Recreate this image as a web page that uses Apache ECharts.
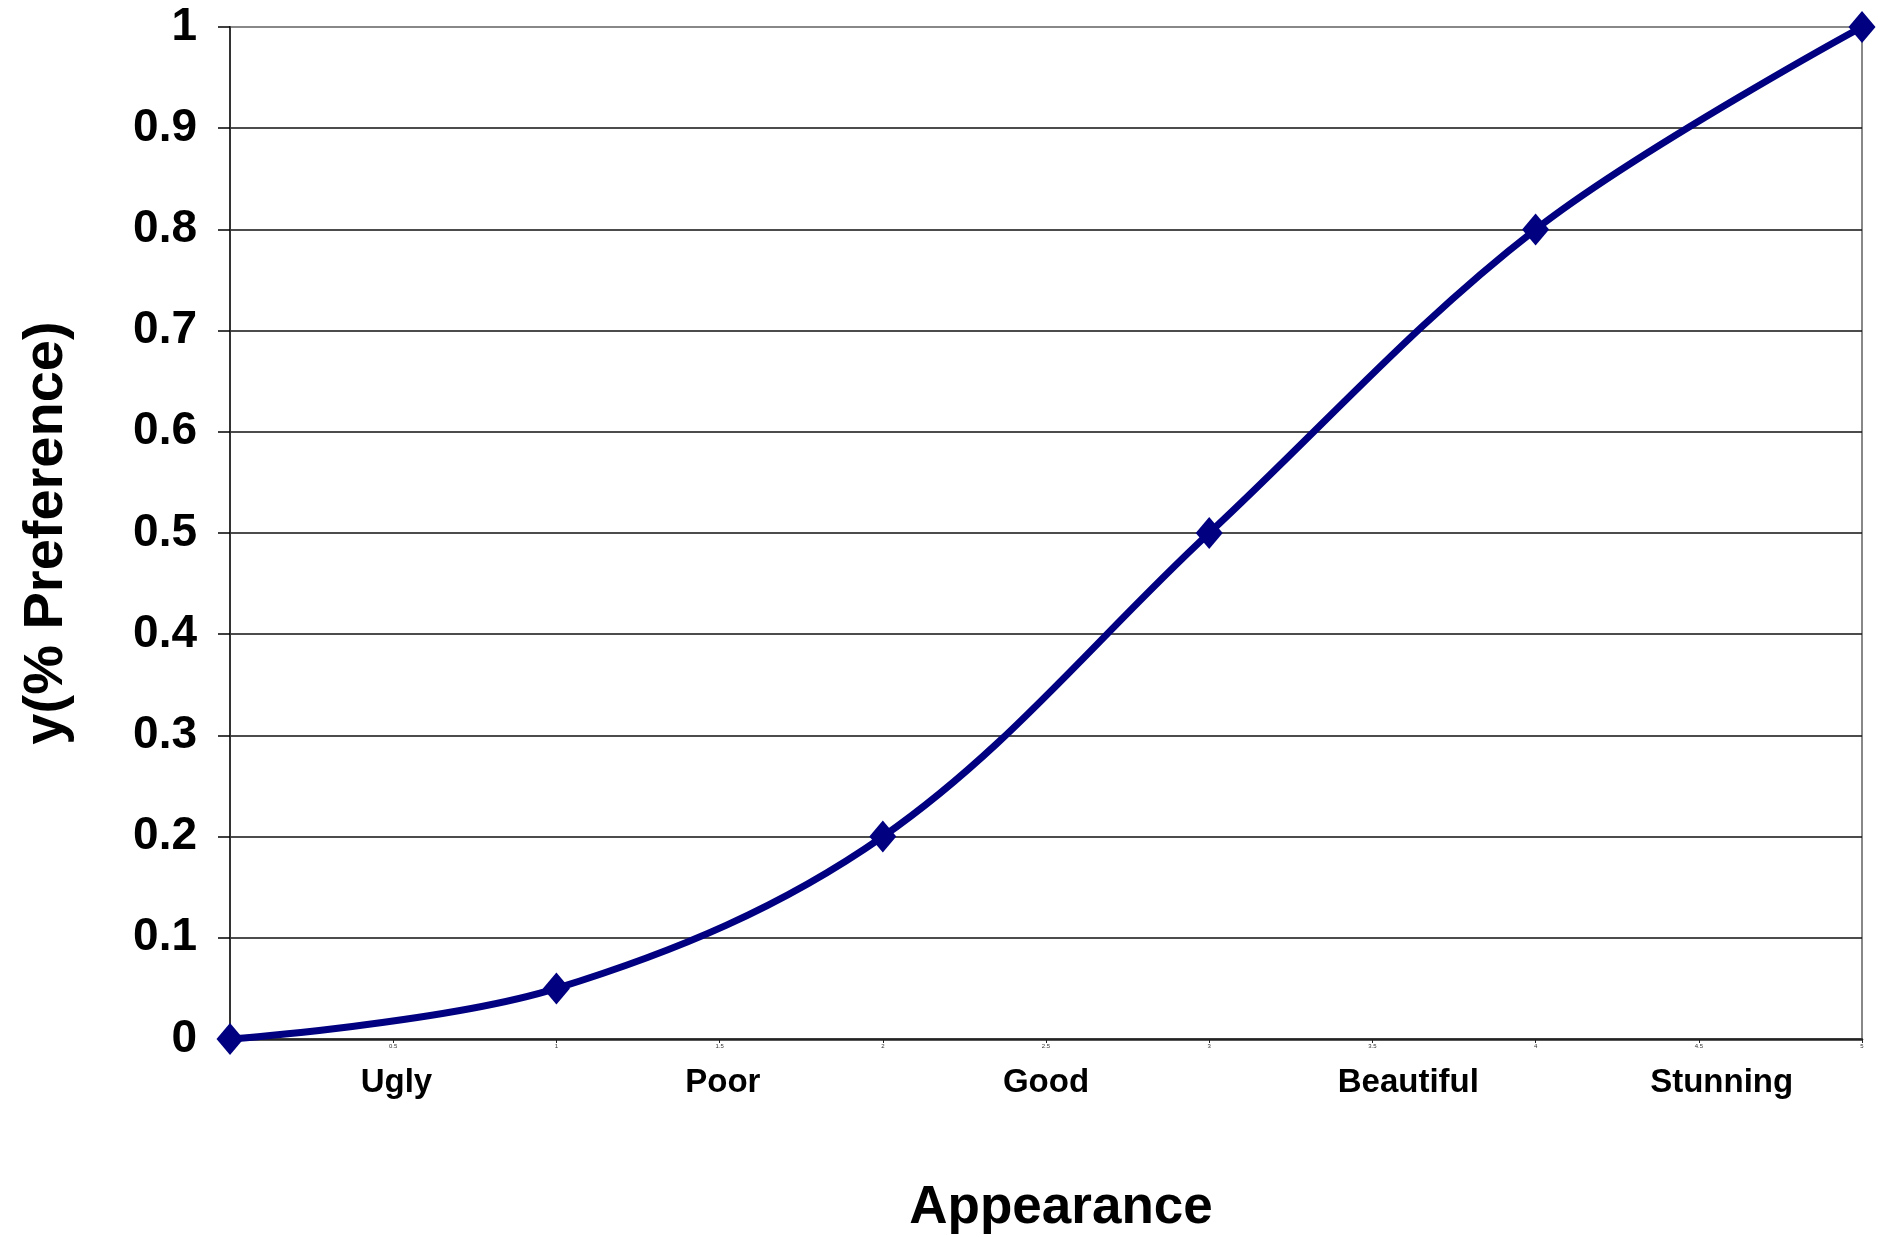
<!DOCTYPE html>
<html>
<head>
<meta charset="utf-8">
<title>Appearance vs Preference</title>
<script src="https://cdn.jsdelivr.net/npm/echarts@6/dist/echarts.min.js"></script>
<style>
  html, body { margin: 0; padding: 0; background: #ffffff; }
  #chart { width: 1881px; height: 1237px; }
</style>
</head>
<body>
<div id="chart"></div>
<script>
// Appearance score (x) against share of preference (y)
const appearanceScores = [0, 1, 2, 3, 4, 5];
const preferenceShare = [0, 0.05, 0.2, 0.5, 0.8, 1.0];

// Verbal ratings written beneath the numeric scale
const ratingNames = ['Ugly', 'Poor', 'Good', 'Beautiful', 'Stunning'];
const ratingPositions = [0.51, 1.51, 2.5, 3.61, 4.57];

const FONT = 'Liberation Sans, Arial, Helvetica, sans-serif';

const chart = echarts.init(document.getElementById('chart'), null, { renderer: 'canvas' });

const option = {
  backgroundColor: '#ffffff',
  animation: false,
  grid: {
    left: 230, right: 19, top: 27, bottom: 198,
    outerBoundsMode: 'none',
    containLabel: false,
    show: true,
    borderColor: '#888888',
    borderWidth: 2,
    backgroundColor: 'transparent'
  },
  xAxis: [
    {
      type: 'value',
      min: 0, max: 5, interval: 0.5,
      position: 'bottom',
      axisLine: { show: true, onZero: false, lineStyle: { color: '#222', width: 2.5 } },
      axisTick: { show: true, length: 4, lineStyle: { color: '#222', width: 1 } },
      axisLabel: { show: true, fontSize: 6, color: '#333', margin: 4, fontFamily: FONT },
      splitLine: { show: false },
      name: 'Appearance',
      nameLocation: 'middle',
      nameGap: 143,
      nameTextStyle: {
        fontSize: 53, fontWeight: 'bold', color: '#000', fontFamily: FONT,
        padding: [0, 0, 0, 30]
      }
    },
    {
      type: 'value',
      min: 0, max: 5,
      position: 'bottom',
      axisLine: { show: false },
      axisTick: { show: false },
      splitLine: { show: false },
      axisLabel: {
        show: true,
        customValues: ratingPositions,
        formatter: function (v) {
          const i = ratingPositions.findIndex(p => Math.abs(p - v) < 1e-6);
          return i >= 0 ? ratingNames[i] : '';
        },
        fontSize: 33, fontWeight: 'bold', color: '#000', margin: 27, fontFamily: FONT
      }
    }
  ],
  yAxis: {
    type: 'value',
    min: 0, max: 1, interval: 0.1,
    axisLine: { show: true, lineStyle: { color: '#333', width: 2 } },
    axisTick: { show: true, length: 12, lineStyle: { color: '#000', width: 1.5 } },
    axisLabel: {
      fontSize: 46, fontWeight: 'bold', color: '#000', margin: 33, fontFamily: FONT,
      formatter: function (v) { return String(Math.round(v * 10) / 10); }
    },
    splitLine: {
      show: true,
      lineStyle: {
        width: 1.5,
        color: ['#888', '#111', '#111', '#111', '#111', '#111', '#111', '#111', '#111', '#111', '#888']
      }
    },
    name: 'y(% Preference)',
    nameLocation: 'middle',
    nameRotate: 90,
    nameGap: 155,
    nameTextStyle: { fontSize: 56, fontWeight: 'bold', color: '#000', fontFamily: FONT }
  },
  series: [
    {
      type: 'line',
      xAxisIndex: 0,
      data: appearanceScores.map((x, i) => [x, preferenceShare[i]]),
      smooth: 0.35,
      clip: false,
      lineStyle: { color: '#000080', width: 7 },
      itemStyle: { color: '#000080' },
      symbol: 'diamond',
      symbolSize: [27, 32],
      showSymbol: true,
      z: 5
    }
  ]
};

chart.setOption(option);
</script>
</body>
</html>
